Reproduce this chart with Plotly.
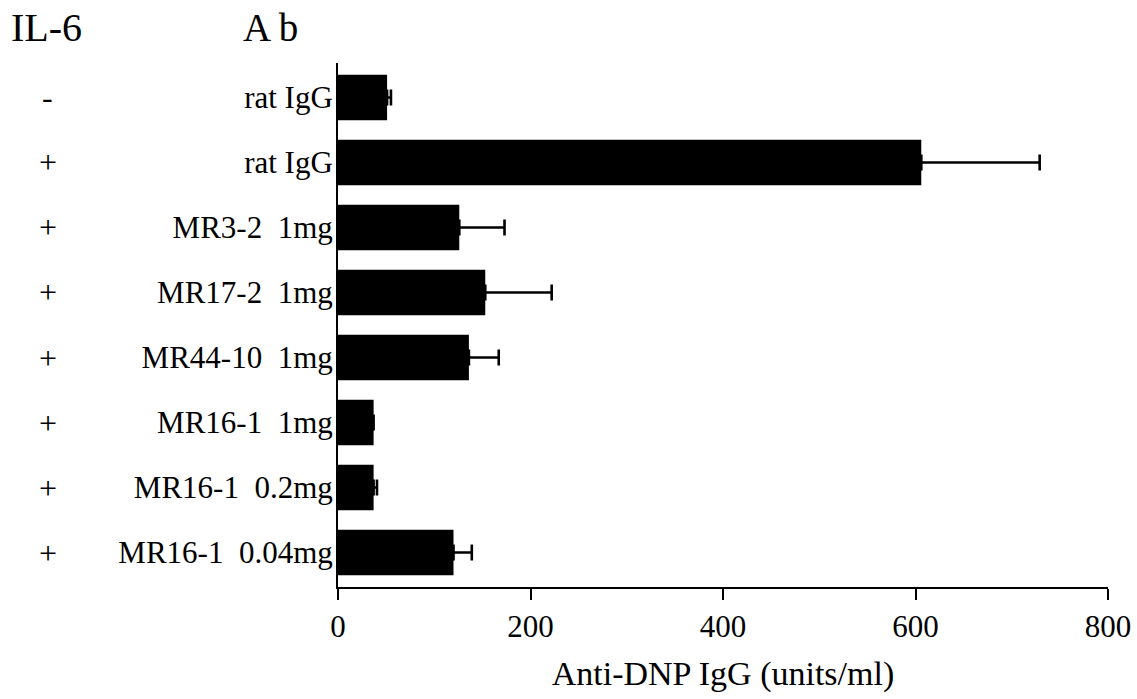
import plotly.graph_objects as go

il6 = ["-", "+", "+", "+", "+", "+", "+", "+"]
ab_labels = ["rat IgG", "rat IgG", "MR3-2  1mg", "MR17-2  1mg", "MR44-10  1mg",
             "MR16-1  1mg", "MR16-1  0.2mg", "MR16-1  0.04mg"]
values = [51, 606, 126, 153, 136, 37, 37, 120]
errors = [4, 123, 47, 69, 31, 0, 3.5, 19]
x_ticks = [0, 200, 400, 600, 800]

FONT = "Liberation Serif"
idx = list(range(len(values)))

fig = go.Figure()
fig.add_trace(go.Bar(
    x=values, y=idx, orientation="h", width=0.7,
    marker=dict(color="black", line=dict(width=0)),
    error_x=dict(type="data", array=errors, arrayminus=[0]*len(errors),
                 symmetric=False, color="black", thickness=2.6, width=8),
))

for i, s in zip(idx, il6):
    fig.add_annotation(x=-0.377, xref="paper", y=i, yref="y", text=s,
                       showarrow=False, xanchor="center", yanchor="middle",
                       font=dict(family=FONT, size=32, color="black"))

fig.add_annotation(x=-0.379, xref="paper", y=1.068, yref="paper", text="IL-6",
                   showarrow=False, xanchor="center", yanchor="middle",
                   font=dict(family=FONT, size=40, color="black"))
fig.add_annotation(x=-0.088, xref="paper", y=1.068, yref="paper", text="A b",
                   showarrow=False, xanchor="center", yanchor="middle",
                   font=dict(family=FONT, size=39, color="black"))

fig.update_layout(
    width=1137, height=699,
    margin=dict(l=338, r=29, t=63, b=112, autoexpand=False),
    paper_bgcolor="white", plot_bgcolor="white",
    showlegend=False,
    font=dict(family=FONT, color="black"),
    xaxis=dict(range=[0, 800], tickvals=x_ticks, ticktext=[str(v) for v in x_ticks],
               automargin=False,
               showline=True, linecolor="black", linewidth=2,
               ticks="outside", ticklen=11, tickwidth=2, tickcolor="black",
               showgrid=False, zeroline=False,
               tickfont=dict(family=FONT, size=31, color="black"),
               title=dict(text="Anti-DNP IgG (units/ml)",
                          font=dict(family=FONT, size=34, color="black"), standoff=18)),
    yaxis=dict(range=[7.53, -0.53], tickvals=idx, ticktext=ab_labels,
               automargin=False, ticklabelstandoff=-3,
               showline=True, linecolor="black", linewidth=2,
               ticks="", showgrid=False, zeroline=False,
               tickfont=dict(family=FONT, size=31, color="black")),
)

fig.write_html("out.html", config={"displayModeBar": False},
               post_script="document.body.style.margin='0';document.body.style.overflow='hidden';")
